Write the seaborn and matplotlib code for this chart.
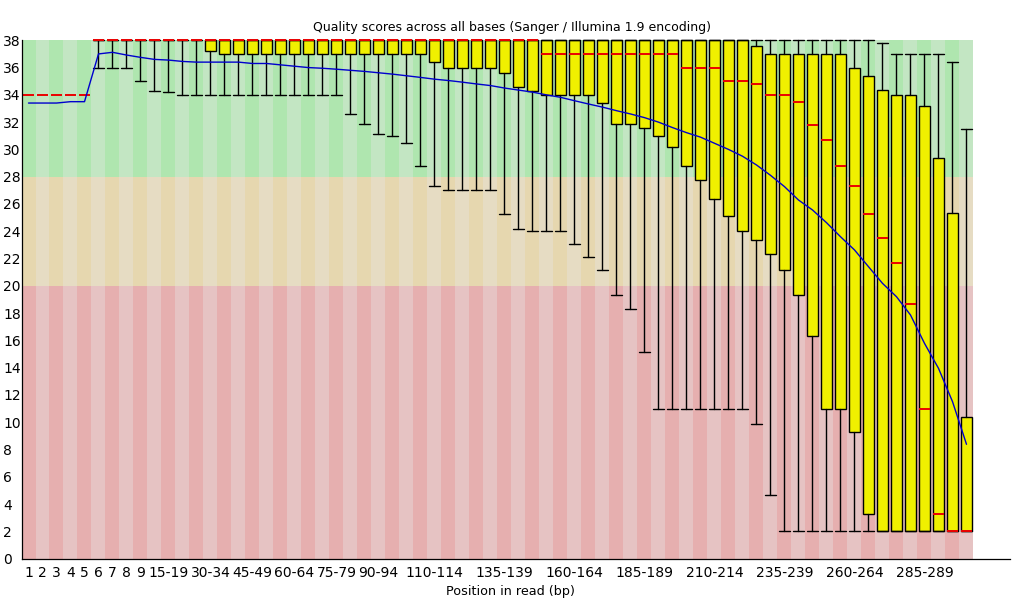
import numpy as np
import matplotlib
matplotlib.use("Agg")
import matplotlib.pyplot as plt
import seaborn as sns

categories = ["1", "2", "3", "4", "5", "6", "7", "8", "9",
              "10-14", "15-19", "20-24", "25-29", "30-34", "35-39", "40-44", "45-49",
              "50-54", "55-59", "60-64", "65-69", "70-74", "75-79", "80-84", "85-89",
              "90-94", "95-99", "100-104", "105-109", "110-114", "115-119", "120-124",
              "125-129", "130-134", "135-139", "140-144", "145-149", "150-154", "155-159",
              "160-164", "165-169", "170-174", "175-179", "180-184", "185-189", "190-194",
              "195-199", "200-204", "205-209", "210-214", "215-219", "220-224", "225-229",
              "230-234", "235-239", "240-244", "245-249", "250-254", "255-259", "260-264",
              "265-269", "270-274", "275-279", "280-284", "285-289", "290-294", "295-299",
              "300-301"]

median = [34, 34, 34, 34, 34, 38, 38, 38, 38, 38,
          38, 38, 38, 38, 38, 38, 38, 38, 38, 38,
          38, 38, 38, 38, 38, 38, 38, 38, 38, 38,
          38, 38, 38, 38, 38, 38, 38, 37, 37, 37,
          37, 37, 37, 37, 37, 37, 37, 36, 36, 36,
          35, 35, 34.8, 34, 34, 33.5, 31.8, 30.7, 28.8, 27.3,
          25.3, 23.5, 21.7, 18.7, 11, 3.25, 2, 2]

upper_quartile = [34, 34, 34, 34, 34, 38, 38, 38, 38, 38,
                  38, 38, 38, 38, 38, 38, 38, 38, 38, 38,
                  38, 38, 38, 38, 38, 38, 38, 38, 38, 38,
                  38, 38, 38, 38, 38, 38, 38, 38, 38, 38,
                  38, 38, 38, 38, 38, 38, 38, 38, 38, 38,
                  38, 38, 37.56, 37, 37, 37, 37, 37, 37, 36,
                  35.36, 34.33, 34, 34, 33.16, 29.35, 25.31, 10.36]

lower_quartile = [34, 34, 34, 34, 34, 38, 38, 38, 38, 38,
                  38, 38, 38, 37.2, 37, 37, 37, 37, 37, 37,
                  37, 37, 37, 37, 37, 37, 37, 37, 37, 36.4,
                  36, 36, 36, 36, 35.6, 34.55, 34.3, 34, 34, 34,
                  34, 33.4, 31.9, 31.9, 31.55, 31, 30.15, 28.8, 27.73, 26.34,
                  25.1, 24, 23.34, 22.3, 21.16, 19.3, 16.3, 11, 11, 9.26,
                  3.25, 2, 2, 2, 2, 2, 2, 2]

percentile_10 = [34, 34, 34, 34, 34, 36, 36, 36, 35, 34.3,
                 34.2, 34, 34, 34, 34, 34, 34, 34, 34, 34,
                 34, 34, 34, 32.57, 31.9, 31.1, 30.96, 30.5, 28.76, 27.3,
                 27, 27, 27, 27, 25.3, 24.14, 24, 24, 24, 23.1,
                 22.1, 21.16, 19.3, 18.28, 15.12, 11, 11, 11, 11, 11,
                 11, 11, 9.85, 4.64, 2, 2, 2, 2, 2, 2,
                 2, 2, 2, 2, 2, 2, 2, 2]

percentile_90 = [34, 34, 34, 34, 34, 38, 38, 38, 38, 38,
                 38, 38, 38, 38, 38, 38, 38, 38, 38, 38,
                 38, 38, 38, 38, 38, 38, 38, 38, 38, 38,
                 38, 38, 38, 38, 38, 38, 38, 38, 38, 38,
                 38, 38, 38, 38, 38, 38, 38, 38, 38, 38,
                 38, 38, 38, 38, 38, 38, 38, 38, 38, 38,
                 38, 37.78, 37, 37, 37, 37, 36.38, 31.47]

mean = [33.4, 33.4, 33.4, 33.5, 33.5, 37.0, 37.12, 36.92, 36.75, 36.6,
        36.55, 36.45, 36.4, 36.4, 36.4, 36.4, 36.3, 36.3, 36.2, 36.1,
        36.0, 35.95, 35.88, 35.8, 35.72, 35.62, 35.52, 35.4, 35.28, 35.15,
        35.05, 34.93, 34.8, 34.68, 34.5, 34.35, 34.2, 34.0, 33.82, 33.57,
        33.33, 33.1, 32.84, 32.6, 32.33, 32.0, 31.6, 31.23, 30.9, 30.45,
        30.0, 29.5, 28.86, 28.1, 27.27, 26.29, 25.56, 24.63, 23.6, 22.63,
        21.4, 20.18, 19.2, 17.86, 15.78, 13.95, 11.51, 8.38]

shown_labels = ["1", "2", "3", "4", "5", "6", "7", "8", "9", "15-19", "30-34", "45-49",
                "60-64", "75-79", "90-94", "110-114", "135-139", "160-164", "185-189",
                "210-214", "235-239", "260-264", "285-289"]

y_ticks = list(range(0, 39, 2))

title = "Quality scores across all bases (Sanger / Illumina 1.9 encoding)"
xlabel = "Position in read (bp)"

sns.set_theme(style="white")
plt.rcParams['font.family'] = ['DejaVu Sans']

W, H = 1020, 600
fig = plt.figure(figsize=(W / 100, H / 100), dpi=100)
ax_left, ax_right, ax_top, ax_bottom = 21.5, 1010.0, 40.3, 558.6
ax = fig.add_axes([ax_left / W, 1 - ax_bottom / H,
                   (ax_right - ax_left) / W, (ax_bottom - ax_top) / H])

n = len(categories)
pos = np.arange(n)
step = 14.0
ax.set_xlim(-0.5, -0.5 + (ax_right - ax_left) / step)
ax.set_ylim(0, 38)

def c(rgb):
    return tuple(v / 255 for v in rgb)

bands = [(0, 20, c((230, 195, 195)), c((230, 175, 175))),
         (20, 28, c((230, 220, 195)), c((230, 215, 175))),
         (28, 38, c((195, 230, 195)), c((175, 230, 175)))]
for lo, hi, light, dark in bands:
    cols = [dark if i % 2 == 0 else light for i in pos]
    ax.bar(pos, hi - lo, bottom=lo, width=1.0, color=cols, linewidth=0, zorder=0)

stats = [dict(med=m, q1=a, q3=b, whislo=lo, whishi=hi, fliers=[])
         for m, a, b, lo, hi in zip(median, lower_quartile, upper_quartile,
                                    percentile_10, percentile_90)]
lw = 1.0
arts = ax.bxp(stats, positions=pos, widths=0.76, capwidths=0.76, patch_artist=True,
              showfliers=False, manage_ticks=False,
              boxprops=dict(facecolor=c((240, 240, 0)), edgecolor='black', linewidth=lw, zorder=2),
              whiskerprops=dict(color='black', linewidth=lw, zorder=2),
              capprops=dict(color='black', linewidth=lw, zorder=2),
              medianprops=dict(color=c((235, 0, 0)), linewidth=1.4, zorder=3))

# categories with no spread: only the median line is drawn
for i in pos:
    if percentile_10[i] == percentile_90[i]:
        arts['boxes'][i].set_visible(False)
        for k in (2 * i, 2 * i + 1):
            arts['caps'][k].set_visible(False)
            arts['whiskers'][k].set_visible(False)

for key in ('boxes', 'caps', 'whiskers', 'medians'):
    for a in arts[key]:
        a.set_snap(True)

sns.lineplot(x=pos, y=mean, ax=ax, color=c((0, 0, 205)), linewidth=1.0, zorder=5)

for art in list(ax.lines) + list(ax.patches):
    art.set_clip_on(False)

for s in ["top", "right"]:
    ax.spines[s].set_visible(False)
for s in ["left", "bottom"]:
    ax.spines[s].set_color("black")
    ax.spines[s].set_linewidth(0.9)
    ax.spines[s].set_zorder(6)

ax.set_yticks(y_ticks)
ax.set_yticklabels([str(v) for v in y_ticks])
ax.tick_params(axis='y', length=0, pad=13.3, labelsize=10, labelcolor='black')
for lbl in ax.get_yticklabels():
    lbl.set_horizontalalignment('left')
    lbl.set_verticalalignment('center_baseline')

label_pos = [categories.index(s) for s in shown_labels]
ax.set_xticks(label_pos)
ax.set_xticklabels(shown_labels)
ax.tick_params(axis='x', length=0, pad=5.5, labelsize=10, labelcolor='black')
ax.grid(False)

fig.text(512 / W, 1 - 30.7 / H, title, ha='center', va='baseline', fontsize=9.0, color='black')
fig.text(510 / W, 1 - 595 / H, xlabel, ha='center', va='baseline', fontsize=9.2, color='black')

fig.savefig("out.png", dpi=100)
